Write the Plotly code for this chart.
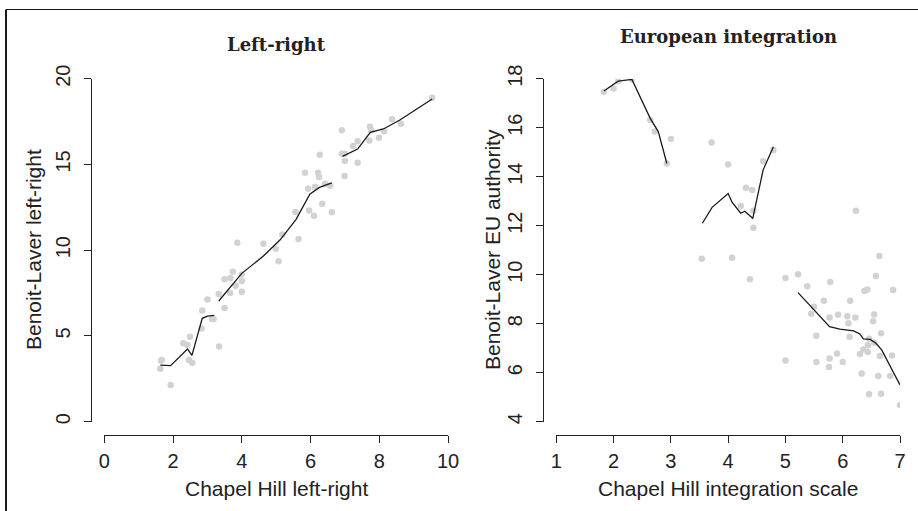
import plotly.graph_objects as go

W, H = 918, 511

# ---------------- data ----------------
lr_x = [1.63, 1.67, 1.65, 1.93, 2.30, 2.42, 2.49, 2.46, 2.56, 2.83, 2.85, 3.00, 3.13, 3.18, 3.34, 3.33,
        3.50, 3.50, 3.67, 3.66, 3.74, 3.82, 3.87, 4.00, 4.00, 4.00, 4.63, 4.99, 5.07, 5.18, 5.56, 5.65,
        5.84, 5.93, 5.96, 6.10, 6.13, 6.22, 6.25, 6.27, 6.34, 6.42, 6.57, 6.62, 6.91, 6.91, 7.00, 7.00,
        6.99, 7.24, 7.37, 7.37, 7.73, 7.76, 7.71, 7.99, 8.14, 8.37, 8.63, 9.54]
lr_y = [3.09, 3.60, 3.55, 2.14, 4.57, 4.47, 4.96, 3.60, 3.44, 5.44, 6.49, 7.13, 5.99, 5.99, 4.39, 7.44,
        6.63, 8.30, 8.38, 7.50, 8.75, 7.93, 10.44, 8.59, 8.20, 7.58, 10.38, 10.09, 9.35, 10.92, 12.23, 10.65,
        14.52, 13.59, 12.32, 12.01, 13.70, 14.52, 14.27, 15.57, 12.71, 13.88, 13.76, 12.21, 17.00, 15.63, 15.63, 15.20,
        14.32, 16.07, 16.35, 15.10, 17.20, 17.00, 16.40, 16.56, 16.93, 17.63, 17.38, 18.89]

lr_fit1_x = [1.63, 1.93, 2.42, 2.55, 2.85, 3.00, 3.20]
lr_fit1_y = [3.30, 3.27, 4.24, 3.87, 6.03, 6.16, 6.20]
lr_fit2_x = [3.33, 4.00, 4.63, 5.11, 5.58, 5.79, 5.98, 6.26, 6.62]
lr_fit2_y = [7.04, 8.65, 9.66, 10.59, 11.80, 12.54, 13.27, 13.66, 13.92]
lr_fit3_x = [6.93, 7.37, 7.74, 8.12, 8.60, 9.54]
lr_fit3_y = [15.47, 15.90, 16.87, 17.07, 17.59, 18.82]

eu_x = [1.83, 2.00, 2.08, 2.32, 2.64, 2.72, 3.00, 2.93, 3.71, 4.00, 4.31, 4.42, 4.22, 4.44, 4.44, 4.61,
        4.79, 3.54, 4.07, 4.38, 5.00, 5.22, 5.38, 5.50, 5.45, 5.54, 5.54, 5.00, 5.67, 5.77, 5.78, 5.77,
        5.76, 5.90, 5.92, 6.00, 6.08, 6.10, 6.12, 6.13, 6.22, 6.23, 6.30, 6.33, 6.36, 6.38, 6.43, 6.44,
        6.44, 6.46, 6.46, 6.53, 6.55, 6.55, 6.58, 6.62, 6.65, 6.64, 6.67, 6.67, 6.83, 6.86, 6.88, 7.00]
eu_y = [17.47, 17.60, 17.90, 17.97, 16.31, 15.84, 15.54, 14.54, 15.40, 14.50, 13.55, 13.46, 12.80, 12.61, 11.92, 14.63,
        15.09, 10.65, 10.69, 9.81, 9.87, 10.02, 9.53, 8.69, 8.41, 7.51, 6.44, 6.50, 8.94, 8.25, 9.70, 6.58,
        6.23, 6.78, 8.37, 6.44, 8.30, 8.02, 7.47, 8.94, 8.25, 12.61, 6.76, 5.97, 6.95, 9.33, 9.40, 7.12,
        6.84, 5.12, 7.39, 8.10, 8.38, 7.22, 9.95, 5.87, 6.68, 10.76, 7.61, 5.14, 5.87, 6.70, 9.38, 4.68]

eu_fit1_x = [1.83, 2.08, 2.32, 2.64, 2.78, 2.93]
eu_fit1_y = [17.50, 17.90, 17.97, 16.38, 15.84, 14.54]
eu_fit2_x = [3.55, 3.72, 4.00, 4.07, 4.22, 4.29, 4.43, 4.61, 4.79]
eu_fit2_y = [12.10, 12.75, 13.31, 12.95, 12.51, 12.59, 12.30, 14.27, 15.22]
eu_fit3_x = [5.22, 5.55, 5.77, 5.95, 6.19, 6.30, 6.36, 6.48, 6.58, 6.68, 7.00]
eu_fit3_y = [9.27, 8.42, 7.88, 7.78, 7.71, 7.58, 7.38, 7.36, 7.20, 6.93, 5.50]

lr_xticks = [0, 2, 4, 6, 8, 10]
lr_yticks = [0, 5, 10, 15, 20]
eu_xticks = [1, 2, 3, 4, 5, 6, 7]
eu_yticks = [4, 6, 8, 10, 12, 14, 16, 18]

titles = ["Left-right", "European integration"]
xlabels = ["Chapel Hill left-right", "Chapel Hill integration scale"]
ylabels = ["Benoit-Laver left-right", "Benoit-Laver EU authority"]


def join(*segs):
    out_x, out_y = [], []
    for sx, sy in segs:
        if out_x:
            out_x.append(None)
            out_y.append(None)
        out_x += sx
        out_y += sy
    return out_x, out_y


def px(x):
    return x / W


def py(y):
    return 1 - y / H


PT_COL = "#d2d2d2"
LINE_COL = "#1a1a1a"
AX_FONT = dict(family="Liberation Sans, Arial, sans-serif", size=20, color="#222")
TITLE_FONT = dict(family="DejaVu Serif, serif", size=18, color="#222")

fig = go.Figure()

fig.add_trace(go.Scatter(x=lr_x, y=lr_y, mode="markers", xaxis="x", yaxis="y",
                         marker=dict(size=6.5, color=PT_COL), showlegend=False))
fx, fy = join((lr_fit1_x, lr_fit1_y), (lr_fit2_x, lr_fit2_y), (lr_fit3_x, lr_fit3_y))
fig.add_trace(go.Scatter(x=fx, y=fy, mode="lines", xaxis="x", yaxis="y",
                         line=dict(color=LINE_COL, width=1.3), showlegend=False))

fig.add_trace(go.Scatter(x=eu_x, y=eu_y, mode="markers", xaxis="x2", yaxis="y2",
                         marker=dict(size=6.5, color=PT_COL), showlegend=False))
fx, fy = join((eu_fit1_x, eu_fit1_y), (eu_fit2_x, eu_fit2_y), (eu_fit3_x, eu_fit3_y))
fig.add_trace(go.Scatter(x=fx, y=fy, mode="lines", xaxis="x2", yaxis="y2",
                         line=dict(color=LINE_COL, width=1.3), showlegend=False))

common = dict(showgrid=False, zeroline=False, showline=True, linecolor="#222", linewidth=1.2,
              ticks="outside", ticklen=7, tickcolor="#222", tickwidth=1.2, tickfont=AX_FONT,
              tickmode="array", anchor="free", automargin=False)

ydom = [py(421.7), py(78.7)]
fig.update_layout(
    width=W, height=H, margin=dict(l=0, r=0, t=0, b=0, autoexpand=False),
    paper_bgcolor="white", plot_bgcolor="white",
    xaxis=dict(domain=[px(104.3), px(448)], range=[0, 10], tickvals=lr_xticks,
               position=py(435), ticklabelstandoff=1, **common),
    yaxis=dict(domain=ydom, range=[0, 20], tickvals=lr_yticks, tickangle=-90,
               position=px(90.7), ticklabelstandoff=6, **common),
    xaxis2=dict(domain=[px(556.3), px(900)], range=[1, 7], tickvals=eu_xticks,
                position=py(435), ticklabelstandoff=1, **common),
    yaxis2=dict(domain=ydom, range=[4, 18], tickvals=eu_yticks, tickangle=-90,
                position=px(543), ticklabelstandoff=6, **common),
)

ann = []
ann.append(dict(text="<b>" + titles[0] + "</b>", x=px(276), y=py(45), font=TITLE_FONT))
ann.append(dict(text="<b>" + titles[1] + "</b>", x=px(728), y=py(37), font=TITLE_FONT))
ann.append(dict(text=xlabels[0], x=px(276), y=py(488), font=AX_FONT | dict(size=21)))
ann.append(dict(text=xlabels[1], x=px(728), y=py(488), font=AX_FONT | dict(size=21)))
ann.append(dict(text=ylabels[0], x=px(33), y=py(250), textangle=-90, font=AX_FONT | dict(size=21)))
ann.append(dict(text=ylabels[1], x=px(492), y=py(250), textangle=-90, font=AX_FONT | dict(size=21)))
for a in ann:
    a.update(xref="paper", yref="paper", showarrow=False, xanchor="center", yanchor="middle")
fig.update_layout(annotations=ann)

# outer frame (partially cropped in the reference)
fig.add_shape(type="line", xref="paper", yref="paper", x0=px(6), x1=px(6), y0=0, y1=py(9.5),
              line=dict(color="#1a1a1a", width=2))
fig.add_shape(type="line", xref="paper", yref="paper", x0=px(6), x1=1, y0=py(9.5), y1=py(9.5),
              line=dict(color="#1a1a1a", width=1.2))

fig.write_html("out.html")
